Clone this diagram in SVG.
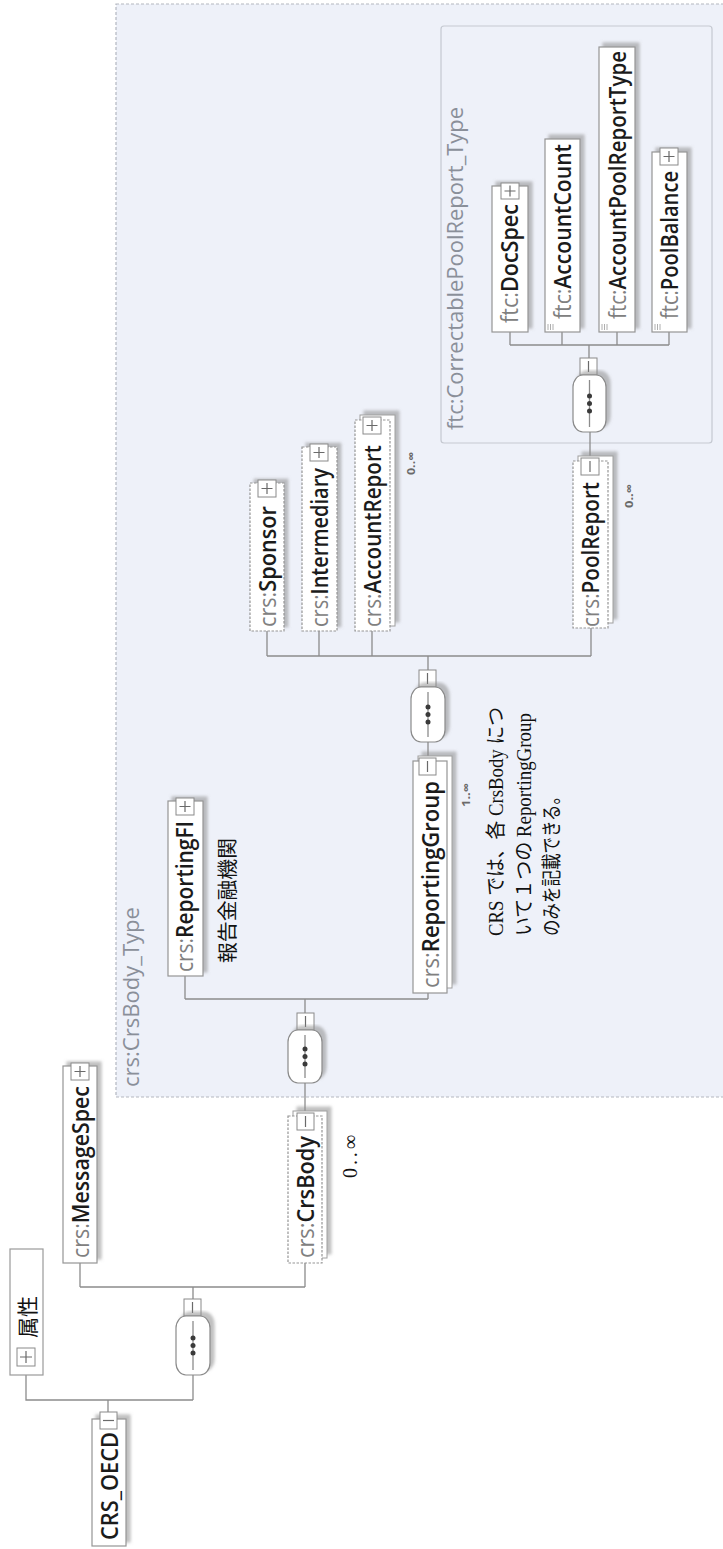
<svg xmlns="http://www.w3.org/2000/svg" width="723" height="1549" viewBox="0 0 723 1549">
  <defs>
    <filter id="sh" x="-30%" y="-10%" width="160%" height="120%">
      <feDropShadow dx="4" dy="-4" stdDeviation="1.4" flood-color="#8c8c8c" flood-opacity="0.55"/>
    </filter>
    <style>
      .bg { fill: #ffffff; }
      .box { fill: #ffffff; stroke: #959595; stroke-width: 1.2; }
      .opt { stroke-dasharray: 2.5 1.5; }
      .back { fill: #ffffff; stroke: #a0a0a0; stroke-width: 1; }
      .btn { fill: #ffffff; stroke: #8a8a8a; stroke-width: 1; }
      .sign { stroke: #6a6a6a; stroke-width: 1.2; fill: none; }
      .comp { fill: #ffffff; stroke: #8a8a8a; stroke-width: 1.2; }
      .wire { fill: none; stroke: #8c8c8c; stroke-width: 1.3; }
      .dot { fill: #3a3a3a; }
      .lbl { font-family: "Open Sans", "Noto Sans", sans-serif; font-size: 23px; }
      .pre { fill: #808080; font-weight: 400; }
      .nm { fill: #1b1b1b; font-weight: 600; }
      .type { font-family: "Open Sans", "Noto Sans", sans-serif; font-size: 22px; fill: #8a8f99; }
      .occ { font-family: "Open Sans", "Noto Sans", sans-serif; font-size: 11px; font-weight: 700; fill: #6a6a6a; }
      .jp { font-family: "Noto Sans CJK JP", sans-serif; fill: #111111; }
      .note { font-family: "Liberation Serif", "Noto Sans CJK JP", serif; font-size: 20px; fill: #111111; }
      .icon { stroke: #9a9a9a; stroke-width: 0.8; }
    </style>
  </defs>

  <rect class="bg" x="0" y="0" width="723" height="1549"/>

  <!-- crs:CrsBody_Type content area -->
  <g id="crsbody-type">
    <rect x="116" y="4" width="620" height="1093" fill="#eef1f9" stroke="#b3b7c0" stroke-width="1.2" stroke-dasharray="3 2"/>
    <text class="type" x="139" y="1087" transform="rotate(-90 139 1087)" textLength="180" lengthAdjust="spacingAndGlyphs">crs:CrsBody_Type</text>
  </g>

  <!-- ftc:CorrectablePoolReport_Type content area -->
  <g id="pool-type">
    <rect x="441" y="26" width="271" height="417" rx="3" fill="#eef1f9" stroke="#c5c9d1" stroke-width="1.2"/>
    <text class="type" x="463" y="430" transform="rotate(-90 463 430)" textLength="323" lengthAdjust="spacingAndGlyphs">ftc:CorrectablePoolReport_Type</text>
  </g>

  <!-- connectors -->
  <g id="connectors">
    <path class="wire" d="M26,1375 V1400 H193 M108,1400 V1412 M193,1375 V1400"/>
    <path class="wire" d="M193,1299 V1287 M80,1287 H305 M80,1263 V1287 M305,1263 V1287"/>
    <path class="wire" d="M305,1083 V1113"/>
    <path class="wire" d="M305,999 V1013 M185,999 H428 M185,976 V999 M428,993 V999"/>
    <path class="wire" d="M428,742 V758"/>
    <path class="wire" d="M428,656 V670 M267,656 H591 M267,631 V656 M319,631 V656 M372,631 V656 M591,628 V656"/>
    <path class="wire" d="M590,432 V458"/>
    <path class="wire" d="M589,345 V358 M510,345 H669 M510,332 V345 M562,332 V345 M617,332 V345 M669,332 V345"/>
  </g>

  <!-- attributes -->
  <g id="attributes">
    <rect x="10" y="1249" width="33" height="126" fill="#ffffff" stroke="#9a9a9a" stroke-width="1.2"/>
    <rect class="btn" x="17" y="1348" width="18" height="18"/>
    <path class="sign" d="M26,1351 V1363 M20,1357 H32"/>
    <text class="jp" x="35" y="1338" font-size="21" transform="rotate(-90 35 1338)" textLength="42" lengthAdjust="spacingAndGlyphs">属性</text>
  </g>

  <!-- CRS_OECD -->
  <g id="crs-oecd">
    <rect class="box" x="92" y="1419" width="34" height="127" filter="url(#sh)"/>
    <rect class="btn" x="100" y="1412" width="17" height="17"/>
    <path class="sign" d="M103,1420.5 H114"/>
    <text class="lbl nm" x="118" y="1540" transform="rotate(-90 118 1540)" textLength="108" lengthAdjust="spacingAndGlyphs">CRS_OECD</text>
  </g>

  <!-- sequence of CRS_OECD -->
  <g id="seq-root">
    <rect class="btn" x="184" y="1299" width="17" height="17"/>
    <path class="sign" d="M192.5,1302 V1313"/>
    <rect class="comp" x="176" y="1316" width="34" height="59" rx="10" ry="12" filter="url(#sh)"/>
    <path class="wire" d="M193,1321 V1370"/>
    <circle class="dot" cx="193" cy="1338" r="2.5"/>
    <circle class="dot" cx="193" cy="1345.5" r="2.5"/>
    <circle class="dot" cx="193" cy="1353" r="2.5"/>
  </g>

  <!-- crs:MessageSpec -->
  <g id="message-spec">
    <rect class="box" x="63" y="1066" width="34" height="197" filter="url(#sh)"/>
    <rect class="btn" x="71" y="1063" width="18" height="17"/>
    <path class="sign" d="M80,1066 V1077 M74.5,1071.5 H85.5"/>
    <text class="lbl" x="89" y="1258" transform="rotate(-90 89 1258)" textLength="172" lengthAdjust="spacingAndGlyphs"><tspan class="pre">crs:</tspan><tspan class="nm">MessageSpec</tspan></text>
  </g>

  <!-- crs:CrsBody -->
  <g id="crs-body">
    <rect class="back" x="293" y="1111" width="34" height="147" filter="url(#sh)"/>
    <rect class="box opt" x="288" y="1116" width="34" height="147"/>
    <rect class="btn" x="297" y="1113" width="17" height="17"/>
    <path class="sign" d="M305.5,1116 V1127"/>
    <text class="lbl" x="314" y="1258" transform="rotate(-90 314 1258)" textLength="122" lengthAdjust="spacingAndGlyphs"><tspan class="pre">crs:</tspan><tspan class="nm">CrsBody</tspan></text>
    <text class="note" x="357" y="1178" font-size="17" transform="rotate(-90 357 1178)" textLength="43" lengthAdjust="spacing">0..∞</text>
  </g>

  <!-- sequence of CrsBody -->
  <g id="seq-body">
    <rect class="btn" x="297" y="1013" width="17" height="17"/>
    <path class="sign" d="M305.5,1016 V1027"/>
    <rect class="comp" x="288" y="1030" width="34" height="53" rx="10" ry="12" filter="url(#sh)"/>
    <path class="wire" d="M305,1035 V1078"/>
    <circle class="dot" cx="305" cy="1049" r="2.5"/>
    <circle class="dot" cx="305" cy="1056.5" r="2.5"/>
    <circle class="dot" cx="305" cy="1064" r="2.5"/>
  </g>

  <!-- crs:ReportingFI -->
  <g id="reporting-fi">
    <rect class="box" x="168" y="801" width="35" height="175" filter="url(#sh)"/>
    <rect class="btn" x="176" y="798" width="18" height="17"/>
    <path class="sign" d="M185,801 V812 M179.5,806.5 H190.5"/>
    <text class="lbl" x="193" y="972" transform="rotate(-90 193 972)" textLength="151" lengthAdjust="spacingAndGlyphs"><tspan class="pre">crs:</tspan><tspan class="nm">ReportingFI</tspan></text>
    <text class="jp" x="235" y="963" font-size="20" transform="rotate(-90 235 963)" textLength="125" lengthAdjust="spacingAndGlyphs">報告金融機関</text>
  </g>

  <!-- crs:ReportingGroup -->
  <g id="reporting-group">
    <rect class="back" x="418" y="756" width="34" height="232" filter="url(#sh)"/>
    <rect class="box" x="413" y="761" width="34" height="232"/>
    <rect class="btn" x="419" y="758" width="17" height="17"/>
    <path class="sign" d="M427.5,761 V772"/>
    <text class="lbl" x="439" y="988" transform="rotate(-90 439 988)" textLength="207" lengthAdjust="spacingAndGlyphs"><tspan class="pre">crs:</tspan><tspan class="nm">ReportingGroup</tspan></text>
    <text class="occ" x="470" y="807" transform="rotate(-90 470 807)" textLength="24" lengthAdjust="spacingAndGlyphs">1..∞</text>
  </g>

  <!-- explanatory note -->
  <g id="note">
    <text class="note" x="503" y="936" transform="rotate(-90 503 936)" textLength="229" lengthAdjust="spacingAndGlyphs">CRS では、各 CrsBody につ</text>
    <text class="note" x="531" y="936" transform="rotate(-90 531 936)" textLength="223" lengthAdjust="spacingAndGlyphs">いて１つの ReportingGroup</text>
    <text class="note" x="559" y="936" transform="rotate(-90 559 936)" textLength="148" lengthAdjust="spacingAndGlyphs">のみを記載できる。</text>
  </g>

  <!-- sequence of ReportingGroup -->
  <g id="seq-group">
    <rect class="btn" x="419" y="670" width="17" height="17"/>
    <path class="sign" d="M427.5,673 V684"/>
    <rect class="comp" x="411" y="687" width="34" height="55" rx="10" ry="12" filter="url(#sh)"/>
    <path class="wire" d="M428,692 V737"/>
    <circle class="dot" cx="428" cy="707" r="2.5"/>
    <circle class="dot" cx="428" cy="714.5" r="2.5"/>
    <circle class="dot" cx="428" cy="722" r="2.5"/>
  </g>

  <!-- crs:Sponsor -->
  <g id="sponsor">
    <rect class="box opt" x="250" y="483" width="34" height="148" filter="url(#sh)"/>
    <rect class="btn" x="258" y="480" width="18" height="17"/>
    <path class="sign" d="M267,483 V494 M261.5,488.5 H272.5"/>
    <text class="lbl" x="276" y="627" transform="rotate(-90 276 627)" textLength="121" lengthAdjust="spacingAndGlyphs"><tspan class="pre">crs:</tspan><tspan class="nm">Sponsor</tspan></text>
  </g>

  <!-- crs:Intermediary -->
  <g id="intermediary">
    <rect class="box opt" x="302" y="447" width="35" height="184" filter="url(#sh)"/>
    <rect class="btn" x="310" y="444" width="18" height="17"/>
    <path class="sign" d="M319,447 V458 M313.5,452.5 H324.5"/>
    <text class="lbl" x="328" y="627" transform="rotate(-90 328 627)" textLength="159" lengthAdjust="spacingAndGlyphs"><tspan class="pre">crs:</tspan><tspan class="nm">Intermediary</tspan></text>
  </g>

  <!-- crs:AccountReport -->
  <g id="account-report">
    <rect class="back" x="360" y="415" width="35" height="211" filter="url(#sh)"/>
    <rect class="box opt" x="355" y="420" width="35" height="211"/>
    <rect class="btn" x="363" y="417" width="18" height="17"/>
    <path class="sign" d="M372,420 V431 M366.5,425.5 H377.5"/>
    <text class="lbl" x="381" y="627" transform="rotate(-90 381 627)" textLength="182" lengthAdjust="spacingAndGlyphs"><tspan class="pre">crs:</tspan><tspan class="nm">AccountReport</tspan></text>
    <text class="occ" x="415" y="475" transform="rotate(-90 415 475)" textLength="23" lengthAdjust="spacingAndGlyphs">0..∞</text>
  </g>

  <!-- crs:PoolReport -->
  <g id="pool-report">
    <rect class="back" x="578" y="456" width="35" height="167" filter="url(#sh)"/>
    <rect class="box opt" x="573" y="461" width="35" height="167"/>
    <rect class="btn" x="581" y="458" width="18" height="17"/>
    <path class="sign" d="M590,461 V472"/>
    <text class="lbl" x="599" y="627" transform="rotate(-90 599 627)" textLength="145" lengthAdjust="spacingAndGlyphs"><tspan class="pre">crs:</tspan><tspan class="nm">PoolReport</tspan></text>
    <text class="occ" x="633" y="508" transform="rotate(-90 633 508)" textLength="24" lengthAdjust="spacingAndGlyphs">0..∞</text>
  </g>

  <!-- sequence of PoolReport -->
  <g id="seq-pool">
    <rect class="btn" x="580" y="358" width="17" height="17"/>
    <path class="sign" d="M588.5,361 V372"/>
    <rect class="comp" x="573" y="375" width="33" height="57" rx="10" ry="12" filter="url(#sh)"/>
    <path class="wire" d="M589.5,380 V427"/>
    <circle class="dot" cx="589.5" cy="396" r="2.5"/>
    <circle class="dot" cx="589.5" cy="403.5" r="2.5"/>
    <circle class="dot" cx="589.5" cy="411" r="2.5"/>
  </g>

  <!-- ftc:DocSpec -->
  <g id="doc-spec">
    <rect class="box" x="492" y="186" width="36" height="146" filter="url(#sh)"/>
    <rect class="btn" x="501" y="183" width="18" height="16"/>
    <path class="sign" d="M510,185.5 V196.5 M504.5,191 H515.5"/>
    <text class="lbl" x="518" y="323" transform="rotate(-90 518 323)" textLength="119" lengthAdjust="spacingAndGlyphs"><tspan class="pre">ftc:</tspan><tspan class="nm">DocSpec</tspan></text>
  </g>

  <!-- ftc:AccountCount -->
  <g id="account-count">
    <rect class="box" x="545" y="139" width="35" height="193" filter="url(#sh)"/>
    <path class="icon" d="M548,324 V330 M550.5,324 V330 M553,324 V330"/>
    <text class="lbl" x="571" y="319" transform="rotate(-90 571 319)" textLength="175" lengthAdjust="spacingAndGlyphs"><tspan class="pre">ftc:</tspan><tspan class="nm">AccountCount</tspan></text>
  </g>

  <!-- ftc:AccountPoolReportType -->
  <g id="account-pool-report-type">
    <rect class="box" x="599" y="47" width="36" height="285" filter="url(#sh)"/>
    <path class="icon" d="M602,324 V330 M604.5,324 V330 M607,324 V330"/>
    <text class="lbl" x="626" y="319" transform="rotate(-90 626 319)" textLength="268" lengthAdjust="spacingAndGlyphs"><tspan class="pre">ftc:</tspan><tspan class="nm">AccountPoolReportType</tspan></text>
  </g>

  <!-- ftc:PoolBalance -->
  <g id="pool-balance">
    <rect class="box" x="652" y="152" width="35" height="180" filter="url(#sh)"/>
    <rect class="btn" x="660" y="148" width="18" height="17"/>
    <path class="sign" d="M669,151 V162 M663.5,156.5 H674.5"/>
    <path class="icon" d="M655,324 V330 M657.5,324 V330 M660,324 V330"/>
    <text class="lbl" x="678" y="319" transform="rotate(-90 678 319)" textLength="148" lengthAdjust="spacingAndGlyphs"><tspan class="pre">ftc:</tspan><tspan class="nm">PoolBalance</tspan></text>
  </g>
</svg>
